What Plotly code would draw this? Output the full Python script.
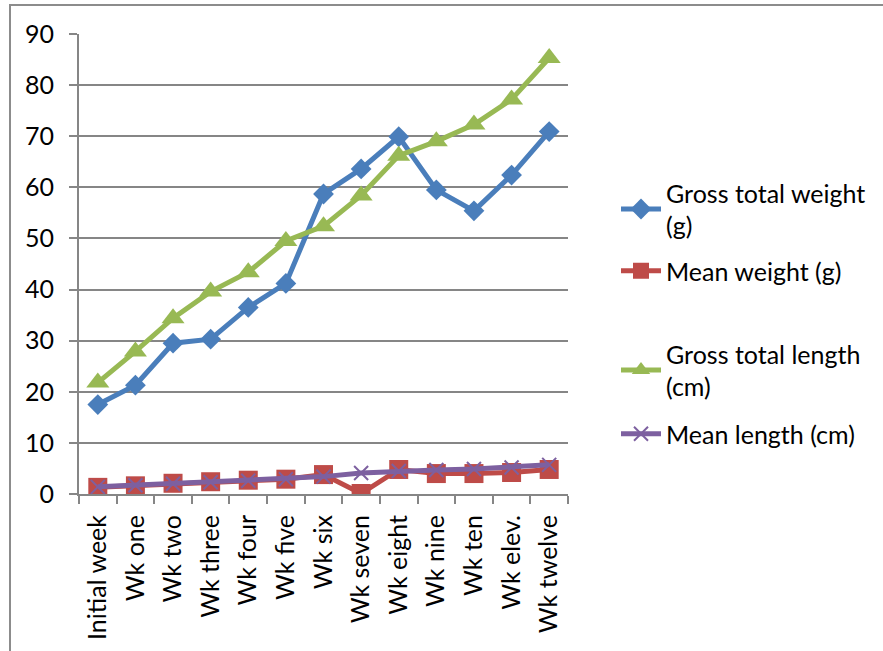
import plotly.graph_objects as go

# Weekly growth records
weeks = ["Initial week", "Wk one", "Wk two", "Wk three", "Wk four", "Wk five",
         "Wk six", "Wk seven", "Wk eight", "Wk nine", "Wk ten", "Wk elev.", "Wk twelve"]
gross_weight = [17.5, 21.3, 29.5, 30.3, 36.5, 41.2, 58.7, 63.6, 69.9, 59.5, 55.4, 62.4, 70.9]
mean_weight = [1.3, 1.6, 2.1, 2.4, 2.7, 2.9, 3.8, 0.1, 4.8, 4.0, 4.0, 4.2, 4.8]
gross_length = [21.8, 27.9, 34.4, 39.6, 43.4, 49.5, 52.4, 58.4, 66.2, 69.0, 72.3, 77.2, 85.3]
mean_length = [1.4, 1.7, 2.0, 2.3, 2.6, 2.9, 3.4, 4.1, 4.5, 4.7, 4.9, 5.2, 5.7]

W, H = 883, 651
ML, MR, MT, MB = 79, 315, 34, 157
PW, PH = W - ML - MR, H - MT - MB

FONT = "Lato"
FS = 25
GRID = "#868686"

series = [
    ("Gross total weight<br>(g)", gross_weight, "#4A7EBB", "diamond", 16, "legend"),
    ("Mean weight (g)", mean_weight, "#BE4B48", "square", 19, "legend2"),
    ("Gross total length<br>(cm)", gross_length, "#98B954", "triangle-up", 20, "legend3"),
    ("Mean length (cm)", mean_length, "#7D60A0", "x-thin", 14, "legend4"),
]

fig = go.Figure()
for name, vals, color, sym, size, leg in series:
    marker = dict(symbol=sym, size=size, color=color)
    if sym == "x-thin":
        marker["line"] = dict(color=color, width=2)
    fig.add_trace(go.Scatter(
        x=weeks, y=vals, name=name, mode="lines+markers",
        line=dict(color=color, width=5), marker=marker, legend=leg,
        showlegend=True,
    ))

def px_x(px):
    return (px - ML) / PW

def px_y(py):
    return (H - MB - py) / PH

legend_common = dict(
    xanchor="left", yanchor="middle", bgcolor="rgba(0,0,0,0)",
    font=dict(family=FONT, size=FS, color="#000000"),
    itemwidth=40, tracegroupgap=0, visible=True,
)
fig.update_layout(
    width=W, height=H,
    showlegend=True,
    margin=dict(l=ML, r=MR, t=MT, b=MB, autoexpand=False),
    paper_bgcolor="white", plot_bgcolor="white",
    font=dict(family=FONT, size=FS, color="#000000"),
    legend=dict(x=px_x(616), y=px_y(209), **legend_common),
    legend2=dict(x=px_x(616), y=px_y(271), **legend_common),
    legend3=dict(x=px_x(616), y=px_y(370), **legend_common),
    legend4=dict(x=px_x(616), y=px_y(434), **legend_common),
    xaxis=dict(
        type="category", tickangle=-90, tickson="boundaries",
        ticks="outside", ticklen=8, tickcolor=GRID, tickwidth=2,
        showline=True, linecolor=GRID, linewidth=2,
        showgrid=False, ticklabelstandoff=9, automargin=False,
        tickfont=dict(family=FONT, size=FS, color="#000000"),
        range=[-0.5, len(weeks) - 0.5],
    ),
    yaxis=dict(
        range=[0, 90], dtick=10, tick0=0,
        ticks="outside", ticklen=8, tickcolor=GRID, tickwidth=2,
        showline=True, linecolor=GRID, linewidth=2,
        showgrid=True, gridcolor=GRID, gridwidth=2,
        zeroline=False, ticklabelstandoff=10, automargin=False,
        tickfont=dict(family=FONT, size=FS, color="#000000"),
    ),
    shapes=[
        # chart frame (top and left edges visible)
        dict(type="rect", xref="paper", yref="paper",
             x0=px_x(10), y0=px_y(H + 20), x1=px_x(W + 20), y1=px_y(5),
             line=dict(color="#8C8C8C", width=2), fillcolor="rgba(0,0,0,0)",
             layer="below"),
    ],
)

fig.write_html("out.html")
